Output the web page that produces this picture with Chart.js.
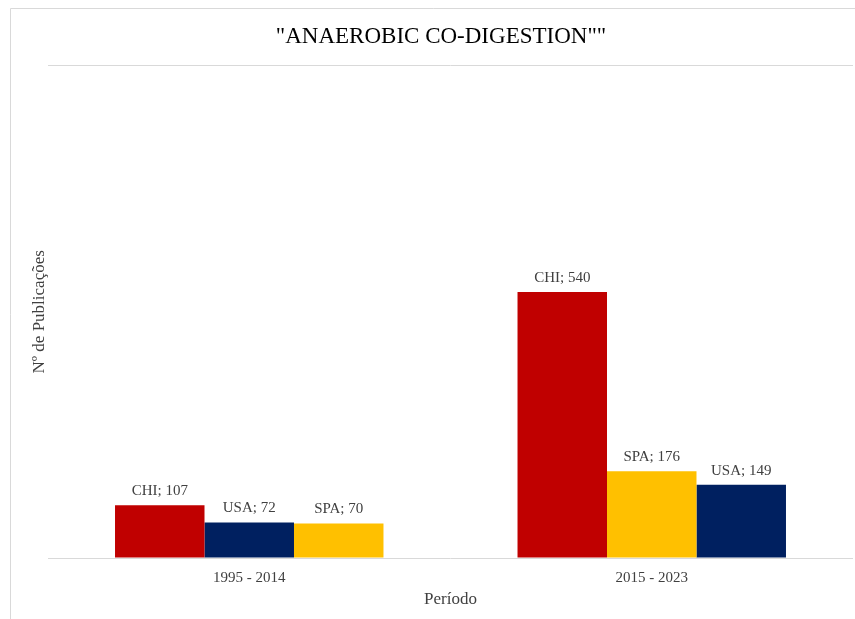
<!DOCTYPE html>
<html>
<head>
<meta charset="utf-8">
<script src="https://cdn.jsdelivr.net/npm/chart.js@4.4.1/dist/chart.umd.min.js"></script>
<style>
  html, body { margin: 0; padding: 0; background: #ffffff; }
  #wrap { position: relative; width: 855px; height: 619px; }
</style>
</head>
<body>
<div id="wrap"><canvas id="chart" width="855" height="619"></canvas></div>
<script>
// Publication periods
const periods = ['1995 - 2014', '2015 - 2023'];

// Bars are ordered by rank within each period, so each slot carries its own country
const firstCountries = ['CHI', 'CHI'];
const firstValues = [107, 540];
const secondCountries = ['USA', 'SPA'];
const secondValues = [72, 176];
const thirdCountries = ['SPA', 'USA'];
const thirdValues = [70, 149];

const countryColors = { CHI: '#C00000', USA: '#002060', SPA: '#FFC000' };

const textColor = '#404040';
const serif = '"Liberation Serif", "Times New Roman", serif';

function slot(countries, values) {
  return {
    data: values,
    countries: countries,
    backgroundColor: countries.map(c => countryColors[c]),
    borderWidth: 0
  };
}

// Writes "COUNTRY; value" above each bar
const barLabels = {
  id: 'barLabels',
  afterDatasetsDraw(chart) {
    const ctx = chart.ctx;
    ctx.save();
    ctx.font = '15px ' + serif;
    ctx.fillStyle = textColor;
    ctx.textAlign = 'center';
    ctx.textBaseline = 'middle';
    chart.data.datasets.forEach((ds, di) => {
      chart.getDatasetMeta(di).data.forEach((bar, i) => {
        ctx.fillText(ds.countries[i] + '; ' + ds.data[i], bar.x, bar.y - 14);
      });
    });
    ctx.restore();
  }
};

// Light frame around the chart
const frame = {
  id: 'frame',
  beforeDraw(chart) {
    const ctx = chart.ctx;
    ctx.save();
    ctx.strokeStyle = '#d9d9d9';
    ctx.lineWidth = 1;
    ctx.beginPath();
    ctx.moveTo(10.5, 640);
    ctx.lineTo(10.5, 8.5);
    ctx.lineTo(870, 8.5);
    ctx.stroke();
    ctx.restore();
  }
};

new Chart(document.getElementById('chart'), {
  type: 'bar',
  data: {
    labels: periods,
    datasets: [
      slot(firstCountries, firstValues),
      slot(secondCountries, secondValues),
      slot(thirdCountries, thirdValues)
    ]
  },
  options: {
    responsive: false,
    animation: false,
    devicePixelRatio: 1,
    layout: { padding: { left: 29, right: 2, top: 0, bottom: 9 } },
    datasets: { bar: { categoryPercentage: 0.667, barPercentage: 1 } },
    plugins: {
      legend: { display: false },
      tooltip: { enabled: false },
      title: {
        display: true,
        text: '"ANAEROBIC CO-DIGESTION""',
        color: '#000000',
        font: { family: serif, size: 23, weight: 'normal' },
        padding: { top: 23, bottom: 15 }
      }
    },
    scales: {
      x: {
        grid: { display: false, drawTicks: false },
        border: { display: false },
        ticks: { color: textColor, font: { family: serif, size: 15 }, padding: 11 },
        title: {
          display: true,
          text: 'Período',
          color: textColor,
          font: { family: serif, size: 17 },
          padding: { top: 0, bottom: 0 }
        },
        afterFit(scale) { scale.height = 52; }
      },
      y: {
        min: 0,
        max: 1000,
        ticks: { display: false, stepSize: 1000 },
        grid: { color: '#d9d9d9', drawTicks: false },
        border: { display: false },
        title: {
          display: true,
          text: 'Nº de Publicações',
          color: textColor,
          font: { family: serif, size: 17 },
          padding: { top: 0, bottom: 0 }
        },
        afterFit(scale) { scale.width = 19; }
      }
    }
  },
  plugins: [frame, barLabels]
});
</script>
</body>
</html>
